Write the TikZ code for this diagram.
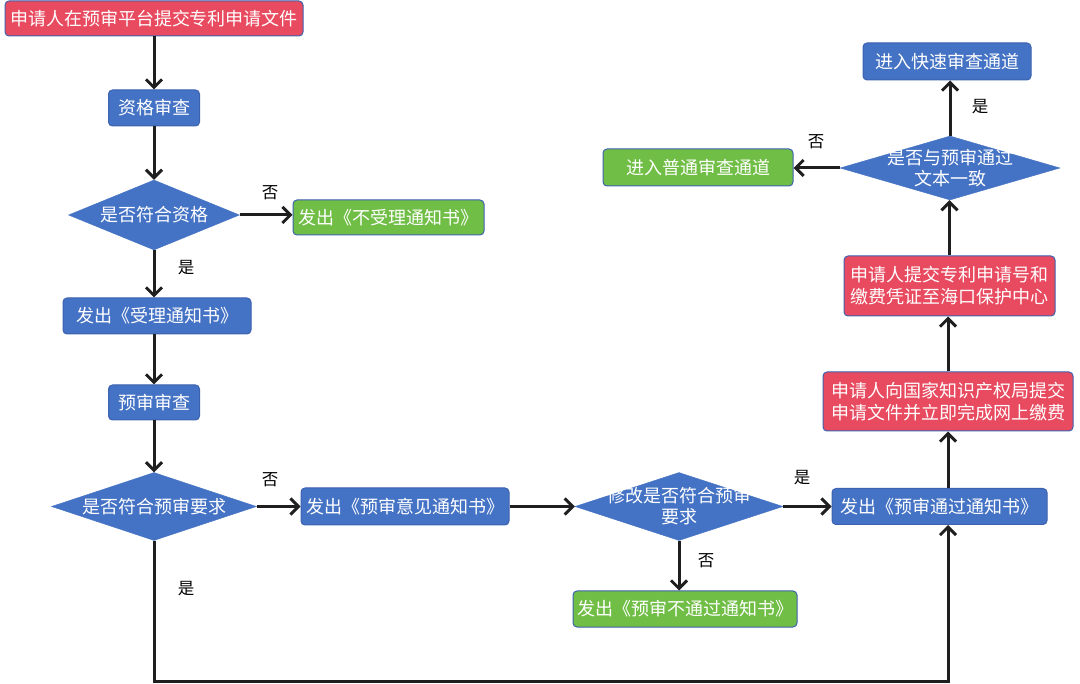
\documentclass[tikz,border=0pt]{standalone}
\usepackage{fontspec}
\setmainfont{Noto Sans CJK SC}
\usetikzlibrary{shapes.geometric,arrows.meta}
\definecolor{cblue}{HTML}{4472C4}
\definecolor{cred}{HTML}{E84A5F}
\definecolor{cgreen}{HTML}{70BE45}
\definecolor{cedge}{HTML}{3C62B0}
\definecolor{cline}{HTML}{1F1F1F}
\tikzset{
  box/.style={draw=cedge, line width=1pt, rounded corners=4pt, text=white, inner sep=0pt, align=center,
    font=\fontsize{18}{22}\selectfont},
  bluebox/.style={box, fill=cblue},
  redbox/.style={box, fill=cred},
  greenbox/.style={box, fill=cgreen},
  dia/.style={diamond, fill=cblue, draw=cblue, inner sep=0pt, aspect=3},
  dtext/.style={text=white, align=center, font=\fontsize{18}{21}\selectfont},
  lbl/.style={text=black, font=\fontsize{16.5}{16.5}\selectfont},
  arr/.style={draw=cline, line width=3pt, -{Straight Barb[length=8pt,width=16pt]}},
}
\begin{document}
\begin{tikzpicture}[x=1pt,y=-1pt]
\useasboundingbox (0,0) rectangle (1080,684);
% nodes
\node[redbox, minimum width=298pt, minimum height=35pt] (n1) at (154,18.5) {申请人在预审平台提交专利申请文件};
\node[bluebox, minimum width=91pt, minimum height=36pt] (n2) at (154,108) {资格审查};
\node[dia, minimum width=171pt, minimum height=70pt, label={[dtext]center:是否符合资格}] (d1) at (154,215) {};
\node[greenbox, minimum width=191pt, minimum height=35pt] (n3) at (388.5,217.5) {发出《不受理通知书》};
\node[bluebox, minimum width=188pt, minimum height=36pt] (n4) at (157,316) {发出《受理通知书》};
\node[bluebox, minimum width=91pt, minimum height=35pt] (n5) at (154,402.5) {预审审查};
\node[dia, minimum width=205pt, minimum height=68pt, label={[dtext]center:是否符合预审要求}] (d2) at (154,506.5) {};
\node[bluebox, minimum width=208pt, minimum height=37pt] (n6) at (405,506.5) {发出《预审意见通知书》};
\node[dia, minimum width=208pt, minimum height=68pt, label={[dtext]center:修改是否符合预审\\要求}] (d3) at (679,506.5) {};
\node[bluebox, minimum width=215pt, minimum height=36pt] (n7) at (939.5,506.5) {发出《预审通过通知书》};
\node[greenbox, minimum width=224pt, minimum height=36pt] (n8) at (685,609) {发出《预审不通过通知书》};
\node[redbox, minimum width=250pt, minimum height=59pt] (n9) at (948,401.5) {申请人向国家知识产权局提交\\申请文件并立即完成网上缴费};
\node[redbox, minimum width=211pt, minimum height=60pt] (n10) at (949.5,286) {申请人提交专利申请号和\\缴费凭证至海口保护中心};
\node[dia, minimum width=220pt, minimum height=64pt, label={[dtext]center:是否与预审通过\\文本一致}] (d4) at (950,168) {};
\node[bluebox, minimum width=168pt, minimum height=37pt] (n11) at (947,61.5) {进入快速审查通道};
\node[greenbox, minimum width=190pt, minimum height=37pt] (n12) at (698,167.5) {进入普通审查通道};
% labels
\node[lbl] (l1) at (270,193) {否};
\node[lbl] (l2) at (186,268) {是};
\node[lbl] (l3) at (270,480) {否};
\node[lbl] (l4) at (186,589) {是};
\node[lbl] (l5) at (802,478) {是};
\node[lbl] (l6) at (706,561) {否};
\node[lbl] (l7) at (980,107) {是};
\node[lbl] (l8) at (816,142) {否};
% connectors
\draw[arr] (n1.south -| n2.north) -- (n2.north);
\draw[arr] (n2.south) -- (d1.north);
\draw[arr] (d1.east) -- (d1.east -| n3.west);
\draw[arr] (d1.south) -- (d1.south |- n4.north);
\draw[arr] (n4.south -| n5.north) -- (n5.north);
\draw[arr] (n5.south) -- (d2.north);
\draw[arr] (d2.east) -- (n6.west);
\draw[arr] (n6.east) -- (d3.west);
\draw[arr] (d3.east) -- (n7.west);
\draw[arr] (d3.south) -- (d3.south |- n8.north);
\coordinate (lp) at (948,681);
\draw[arr] (d2.south) |- (lp) -- (lp |- n7.south);
\draw[arr] (n9.south |- n7.north) -- (n9.south);
\draw[arr] (n9.north) -- (n9.north |- n10.south);
\draw[arr] (n10.north) -- (n10.north |- d4.south);
\draw[arr] (d4.north) -- (d4.north |- n11.south);
\draw[arr] (d4.west) -- (d4.west -| n12.east);
\end{tikzpicture}
\end{document}
